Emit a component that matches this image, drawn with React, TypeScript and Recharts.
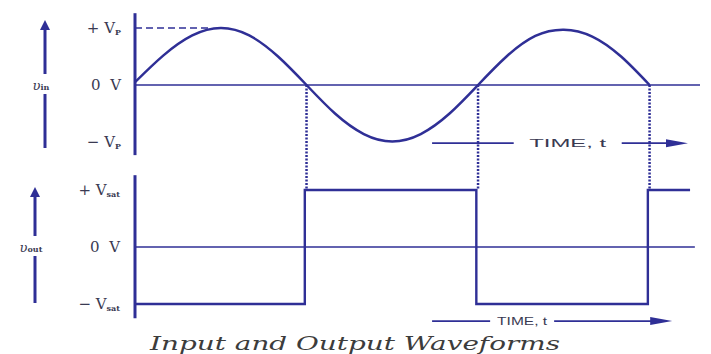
import React from 'react';
import { ComposedChart, Line, XAxis, YAxis, ReferenceLine } from 'recharts';

// time in periods of the input sine
const inTimes = [0, 0.083, 0.167, 0.25, 0.333, 0.417, 0.5, 0.583, 0.667, 0.75, 0.833, 0.917, 1.0, 1.083, 1.167, 1.25, 1.333, 1.417, 1.5];
const inValues = [0.05, 0.52, 0.87, 1.0, 0.87, 0.5, 0, -0.5, -0.86, -0.99, -0.86, -0.5, 0, 0.5, 0.86, 0.97, 0.85, 0.5, 0];

const outTimes = [0, 0.495, 0.495, 0.995, 0.995, 1.495, 1.495, 1.618];
const outValues = [-1, -1, 1, 1, -1, -1, 1, 1];

const crossTimes = [0.5, 1.0, 1.5];

const inTicks = [1, 0, -1];
const inTickText = ['+ V', '0  V', '− V'];
const inTickSub = ['P', '', 'P'];
const outTicks = [1, 0, -1];
const outTickText = ['+ V', '0  V', '− V'];
const outTickSub = ['sat', '', 'sat'];

const X_DOMAIN: [number, number] = [0, 1.647];
const IN_DOMAIN: [number, number] = [-4.298, 1.316];
const OUT_DOMAIN: [number, number] = [-1.456, 4.158];
// where the input 0 V line sits on the output axis
const IN_ZERO_ON_OUT = OUT_DOMAIN[1] - IN_DOMAIN[1];

const INK = '#2f2f96';
const TEXT = '#3a3a52';

const inData = inTimes.map((t, i) => ({ t, vin: inValues[i] }));
const outData = outTimes.map((t, i) => ({ t, vout: outValues[i] }));

const makeTick = (ticks: number[], text: string[], sub: string[], name: string, arrowDx: number, up: number, down: number) =>
  (props: any) => {
    const { x, y, payload } = props;
    const i = ticks.indexOf(payload.value);
    const ax = x + arrowDx;
    return (
      <g>
        <text x={x - 14} y={y} textAnchor="end" dominantBaseline="central" fill={TEXT}
          fontFamily="'DejaVu Serif', serif" fontSize={15} style={{ whiteSpace: 'pre' }}>
          <tspan>{text[i]}</tspan>
          {sub[i] ? <tspan fontSize={8} fontWeight="bold" dy={4}>{sub[i]}</tspan> : null}
        </text>
        {payload.value === 0 && (
          <g>
            <line x1={ax} y1={y - up + 8} x2={ax} y2={y - 11} stroke={INK} strokeWidth={3} />
            <polygon points={`${ax},${y - up} ${ax - 5},${y - up + 10} ${ax + 5},${y - up + 10}`} fill={INK} />
            <line x1={ax} y1={y + 9} x2={ax} y2={y + down} stroke={INK} strokeWidth={3} />
            <text x={ax - 4} y={y} textAnchor="middle" dominantBaseline="central" fill={TEXT}
              fontFamily="'DejaVu Serif', serif" fontSize={13}>
              <tspan fontStyle="italic">υ</tspan>
              <tspan fontSize={8} fontWeight="bold" dy={2}>{name}</tspan>
            </text>
          </g>
        )}
      </g>
    );
  };

const timeArrow = (frac: number, gap: number, len: number) => (p: any) => {
  const { x1, y1, x2 } = p;
  const cx = x1 + (x2 - x1) * frac;
  return (
    <g>
      <line x1={x1} y1={y1} x2={cx - gap} y2={y1} stroke={INK} strokeWidth={1.8} />
      <line x1={cx + gap} y1={y1} x2={x2 - 12} y2={y1} stroke={INK} strokeWidth={1.8} />
      <polygon points={`${x2},${y1} ${x2 - 22},${y1 - 4} ${x2 - 22},${y1 + 4}`} fill={INK} />
      <text x={cx} y={y1} textAnchor="middle" dominantBaseline="central" fill={TEXT}
        fontFamily="'Liberation Sans', Arial, sans-serif" fontSize={11}
        textLength={len} lengthAdjust="spacingAndGlyphs">TIME, t</text>
    </g>
  );
};

const Caption = (props: any) => {
  const { viewBox } = props;
  return (
    <text x={355} y={viewBox.y + 20} textAnchor="middle" fill="#3c3c3c"
      fontFamily="'DejaVu Serif', serif" fontStyle="italic" fontSize={19}
      textLength={410} lengthAdjust="spacingAndGlyphs">Input and Output Waveforms</text>
  );
};

export default function App() {
  return (
    <div style={{ position: 'absolute', left: 0, top: 0, width: 711, height: 354, background: '#fff' }}>
      <ComposedChart width={711} height={354} margin={{ top: 10, right: 11, bottom: 0, left: 133 }}>
        <XAxis type="number" dataKey="t" domain={X_DOMAIN} allowDataOverflow axisLine={false}
          tick={false} tickLine={false} height={24} label={<Caption />} />
        <YAxis yAxisId="in" type="number" domain={IN_DOMAIN} allowDataOverflow width={1}
          ticks={inTicks} interval={0} axisLine={false} tickLine={false} tickSize={0} tickMargin={0}
          tick={makeTick(inTicks, inTickText, inTickSub, 'in', -90, 65, 63)} />
        <YAxis yAxisId="out" type="number" domain={OUT_DOMAIN} allowDataOverflow width={1}
          ticks={outTicks} interval={0} axisLine={false} tickLine={false} tickSize={0} tickMargin={0}
          tick={makeTick(outTicks, outTickText, outTickSub, 'out', -99, 60, 56)} />

        {/* zero lines */}
        <ReferenceLine yAxisId="in" y={0} stroke={INK} strokeWidth={1.5} />
        <ReferenceLine yAxisId="out" segment={[{ x: 0, y: 0 }, { x: 1.632, y: 0 }]} stroke={INK} strokeWidth={1.5} />

        {/* vertical axes */}
        <ReferenceLine yAxisId="in" segment={[{ x: 0, y: 1.26 }, { x: 0, y: -1.23 }]} stroke={INK} strokeWidth={3} />
        <ReferenceLine yAxisId="out" segment={[{ x: 0, y: 1.26 }, { x: 0, y: -1.25 }]} stroke={INK} strokeWidth={3} />

        {/* peak marker */}
        <ReferenceLine yAxisId="in" segment={[{ x: 0, y: 1 }, { x: 0.22, y: 1 }]} stroke={INK}
          strokeWidth={1.5} strokeDasharray="7 4" />

        {/* zero crossing projections */}
        {crossTimes.map((t) => (
          <ReferenceLine key={t} yAxisId="out" segment={[{ x: t, y: IN_ZERO_ON_OUT }, { x: t, y: 1 }]}
            stroke={INK} strokeWidth={2.5} strokeDasharray="2 1.5" />
        ))}

        {/* time arrows */}
        <ReferenceLine yAxisId="in" segment={[{ x: 0.866, y: -1.02 }, { x: 1.612, y: -1.02 }]}
          stroke={INK} shape={timeArrow(0.53, 54, 77)} />
        <ReferenceLine yAxisId="out" segment={[{ x: 0.866, y: -1.3 }, { x: 1.566, y: -1.3 }]}
          stroke={INK} shape={timeArrow(0.375, 32, 50)} />

        <Line yAxisId="in" data={inData} dataKey="vin" type="natural" stroke={INK} strokeWidth={2.5}
          dot={false} isAnimationActive={false} />
        <Line yAxisId="out" data={outData} dataKey="vout" type="linear" stroke={INK} strokeWidth={2.4}
          dot={false} isAnimationActive={false} />
      </ComposedChart>
    </div>
  );
}
